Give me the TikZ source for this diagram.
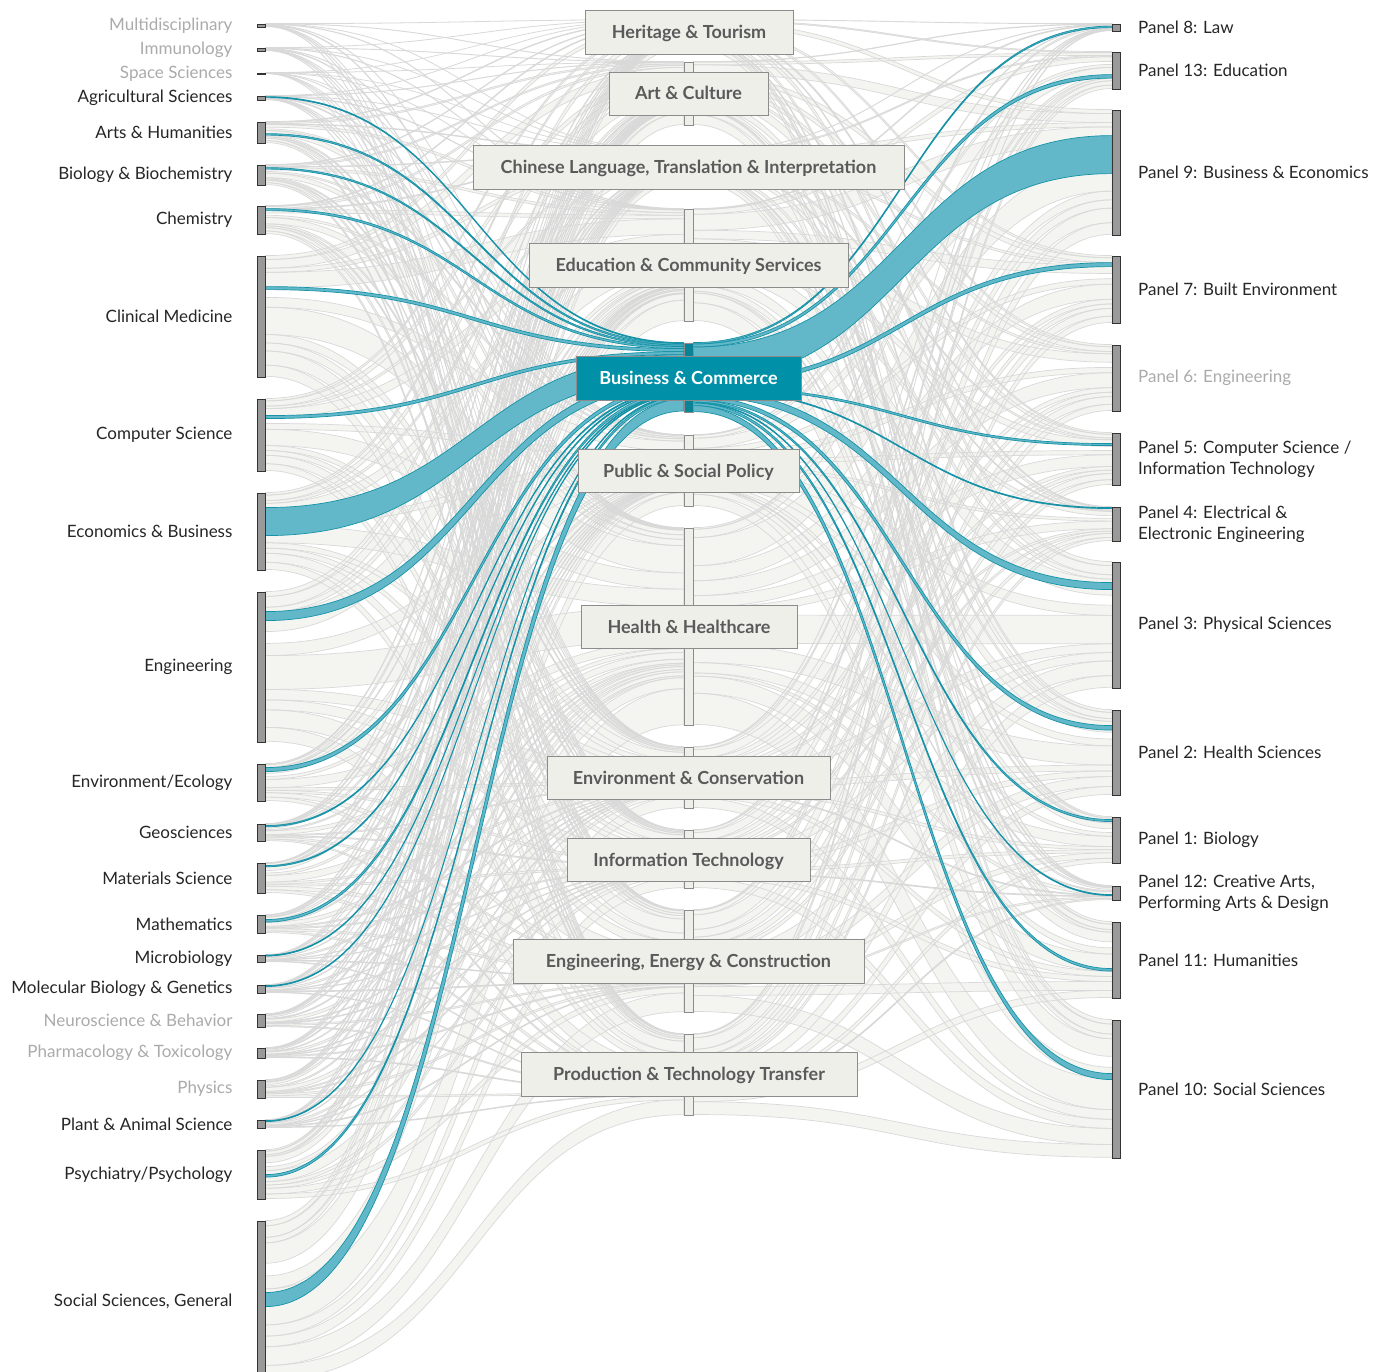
\documentclass[tikz,border=0pt]{standalone}
\usepackage{fontspec}
\setmainfont{Lato}
\usepackage{tikz}
\usetikzlibrary{calc,positioning}

\definecolor{flowfill}{HTML}{F4F4F0}
\definecolor{flowline}{HTML}{D9D9D9}
\definecolor{tealfill}{HTML}{62B8C8}
\definecolor{tealline}{HTML}{1592A7}
\definecolor{bizblue}{HTML}{0091A8}
\definecolor{bizstem}{HTML}{0B8396}
\definecolor{boxfill}{HTML}{EFEFEA}
\definecolor{boxline}{HTML}{8C8C8C}
\definecolor{boxtext}{HTML}{5A5A5A}
\definecolor{barfill}{HTML}{9A9A9A}
\definecolor{labeltext}{HTML}{262626}
\definecolor{fadetext}{HTML}{ABABAB}

\pgfdeclarelayer{bg}
\pgfdeclarelayer{flows}
\pgfsetlayers{bg,flows,main}

% ribbon between two vertical edges: style, a1, a2, b1, b2
\newcommand\flowband[5]{%
  \coordinate (fm) at ($(#2)!0.5!(#4)$);
  \path[#1] (#2) .. controls (fm |- #2) and (fm |- #4) .. (#4)
    -- (#5) .. controls (fm |- #5) and (fm |- #3) .. (#3) -- cycle;}

\tikzset{
  lbar/.style={draw=black!80, fill=barfill, line width=0.8pt, minimum width=8pt, inner sep=0pt},
  stembar/.style={draw=boxline, fill=boxfill, line width=0.8pt, minimum width=9pt, inner sep=0pt},
  cbox/.style={draw=boxline, fill=boxfill, line width=0.8pt, minimum height=44pt, inner sep=0pt,
    text height=16pt, text depth=3pt, text=boxtext, font=\fontsize{18}{21}\selectfont\bfseries},
  bizbox/.style={cbox, fill=bizblue, text=white},
  leftlabel/.style={anchor=east, font=\fontsize{17}{21}\selectfont, inner sep=0pt},
  rightlabel/.style={anchor=west, align=left, font=\fontsize{17}{21}\selectfont, inner sep=0pt},
  greyfill/.style={fill=flowfill},
  greyline/.style={draw=flowline, line width=0.7pt},
  tealflow/.style={fill=tealfill, draw=tealline, line width=0.7pt}
}

\def\leftlist{3/0,3/3,1/6,4/7,21/11,20/32,28/52,121/80,72/201,77/273,150/350,37/500,17/537,30/554,18/584,7/602,8/609,13/617,10/630,18/640,8/658,49/666,160/715}
\def\stemlist{28/0,63/28,30/91,112/121,69/233,71/302,197/373,61/570,58/631,102/689,81/791}
\def\rightlist{7/0,37/7,125/44,67/169,66/236,52/302,34/354,126/388,85/514,46/599,14/645,76/659,138/735}

\begin{document}
\begin{tikzpicture}[x=1pt, y=-1pt]
\useasboundingbox (0,0) rectangle (1386,1372);
\begin{pgfonlayer}{bg}
  \fill[white] (0,0) rectangle (1386,1372);
\end{pgfonlayer}

% fields of research (left)
\foreach \top/\h/\txt/\col [count=\i] in {
  24/3/Multidisciplinary/fadetext, 48/3/Immunology/fadetext,
  73/1/Space Sciences/fadetext, 96/4/Agricultural Sciences/labeltext,
  122/21/Arts \& Humanities/labeltext, 165/20/Biology \& Biochemistry/labeltext,
  206/28/Chemistry/labeltext, 256/121/Clinical Medicine/labeltext,
  399/72/Computer Science/labeltext, 493/77/Economics \& Business/labeltext,
  592/150/Engineering/labeltext, 764/37/{Environment/Ecology}/labeltext,
  824/17/Geosciences/labeltext, 863/30/Materials Science/labeltext,
  915/18/Mathematics/labeltext, 955/7/Microbiology/labeltext,
  985/8/Molecular Biology \& Genetics/labeltext, 1014/13/Neuroscience \& Behavior/fadetext,
  1048/10/Pharmacology \& Toxicology/fadetext, 1080/18/Physics/fadetext,
  1120/8/Plant \& Animal Science/labeltext, 1150/49/{Psychiatry/Psychology}/labeltext,
  1221/160/{Social Sciences, General}/labeltext}{
  \node[lbar, minimum height=\h pt] (L\i) at (261,\top+\h/2) {};
  \node[leftlabel, text=\col, left=24pt of L\i] {\txt};
}

% panels (right)
\foreach \top/\h/\txt/\col [count=\k] in {
  24/7/Panel 8: Law/labeltext, 52/37/Panel 13: Education/labeltext,
  110/125/Panel 9: Business \& Economics/labeltext, 256/67/Panel 7: Built Environment/labeltext,
  345/66/Panel 6: Engineering/fadetext, 433/52/{Panel 5: Computer Science /\\Information Technology}/labeltext,
  507/34/{Panel 4: Electrical \&\\Electronic Engineering}/labeltext, 562/126/Panel 3: Physical Sciences/labeltext,
  710/85/Panel 2: Health Sciences/labeltext, 817/46/Panel 1: Biology/labeltext,
  886/14/{Panel 12: Creative Arts,\\Performing Arts \& Design}/labeltext, 922/76/Panel 11: Humanities/labeltext,
  1020/138/Panel 10: Social Sciences/labeltext}{
  \node[lbar, minimum height=\h pt] (R\k) at (1116.5,\top+\h/2) {};
  \node[rightlabel, text=\col, right=17pt of R\k] {\txt};
}

% impact areas (centre stems)
\foreach \top/\h [count=\j] in {20/28,62/63,152/30,209/112,343/69,435/71,528/197,747/61,830/58,910/102,1034/81}{
  \node[stembar, minimum height=\h pt] (S\j) at (688.5,\top+\h/2) {};
}
\node[stembar, fill=bizstem, minimum height=69pt] at (S5) {};

\node[cbox, minimum width=208pt] (B1) at (689,32) {Heritage \& Tourism};
\node[cbox, minimum width=159pt, minimum height=43pt] (B2) at (688.5,93.5) {Art \& Culture};
\node[cbox, minimum width=431pt] (B3) at (688.5,167) {Chinese Language, Translation \& Interpretation};
\node[cbox, minimum width=319pt] (B4) at (688.5,265) {Education \& Community Services};
\node[bizbox, minimum width=225pt] (B5) at (688.5,378) {Business \& Commerce};
\node[cbox, minimum width=221pt, minimum height=43pt] (B6) at (688.5,470.5) {Public \& Social Policy};
\node[cbox, minimum width=216pt, minimum height=43pt] (B7) at (689,626.5) {Health \& Healthcare};
\node[cbox, minimum width=283pt, minimum height=43pt] (B8) at (688.5,777.5) {Environment \& Conservation};
\node[cbox, minimum width=243pt, minimum height=43pt] (B9) at (688.5,859.5) {Information Technology};
\node[cbox, minimum width=351pt] (B10) at (688.5,961) {Engineering, Energy \& Construction};
\node[cbox, minimum width=336pt] (B11) at (689,1074) {Production \& Technology Transfer};

\begin{pgfonlayer}{flows}
% grey flows, fills first then edges
\foreach \pass in {greyfill,greyline}{
  \foreach \h/\H [count=\i] in \leftlist{
    \foreach \s/\S [count=\j] in \stemlist{
      \ifnum\j=5\relax\else
        \pgfmathsetmacro\ya{\h/874*\S}
        \pgfmathsetmacro\yb{\h/874*(\S+\s)}
        \pgfmathsetmacro\yc{\s/874*\H}
        \pgfmathsetmacro\yd{\s/874*(\H+\h)}
        \coordinate (a1) at ([yshift=-\ya pt]L\i.north east);
        \coordinate (a2) at ([yshift=-\yb pt]L\i.north east);
        \coordinate (b1) at ([yshift=-\yc pt]S\j.north west);
        \coordinate (b2) at ([yshift=-\yd pt]S\j.north west);
        \flowband{\pass}{a1}{a2}{b1}{b2}
      \fi
    }
  }
  \foreach \s/\S [count=\j] in \stemlist{
    \ifnum\j=5\relax\else
      \foreach \r/\R [count=\k] in \rightlist{
        \pgfmathsetmacro\ya{\s/874*\R}
        \pgfmathsetmacro\yb{\s/874*(\R+\r)}
        \pgfmathsetmacro\yc{\r/874*\S}
        \pgfmathsetmacro\yd{\r/874*(\S+\s)}
        \coordinate (b1) at ([yshift=-\ya pt]S\j.north east);
        \coordinate (b2) at ([yshift=-\yb pt]S\j.north east);
        \coordinate (c1) at ([yshift=-\yc pt]R\k.north west);
        \coordinate (c2) at ([yshift=-\yd pt]R\k.north west);
        \flowband{\pass}{b1}{b2}{c1}{c2}
      }
    \fi
  }
}

% Business & Commerce, in
\foreach \i/\off/\wl/\st/\ws in {4/1/1/0/1, 5/12/1.5/1/1.5, 6/3/1.5/2.5/1.5, 7/3/2/4/2,
  8/31/3/6/3, 9/17/3/9/3, 10/15/28/12/22, 11/20/9/34/8, 12/4/4/42/4, 13/2/1.2/46/1.2,
  14/3/1.2/47.2/1.2, 15/5/2.5/48.4/2.5, 16/0.5/1/50.9/1, 17/1/1/51.9/1, 21/1/1/52.9/1,
  22/25/2.5/53.9/2.5, 23/72/14/56.4/12}{
  \pgfmathsetmacro\yb{\off+\wl}
  \pgfmathsetmacro\yd{\st+\ws}
  \coordinate (a1) at ([yshift=-\off pt]L\i.north east);
  \coordinate (a2) at ([yshift=-\yb pt]L\i.north east);
  \coordinate (b1) at ([yshift=-\st pt]S5.north west);
  \coordinate (b2) at ([yshift=-\yd pt]S5.north west);
  \flowband{tealflow}{a1}{a2}{b1}{b2}
}
% Business & Commerce, out
\foreach \k/\off/\wr/\st/\ws in {1/2.5/1.5/0/1.5, 2/23/3.5/1.5/3, 3/26/38/4.5/35, 4/7/4/39.5/4,
  6/11/2/43.5/2, 7/1/1/45.5/1, 8/21/7/46.5/7, 9/16/4.5/53.5/4, 10/3/2/57.5/2,
  11/9/1/59.5/1, 12/47/2.5/60.5/2.5, 13/54/6/63/6}{
  \pgfmathsetmacro\yb{\st+\ws}
  \pgfmathsetmacro\yd{\off+\wr}
  \coordinate (b1) at ([yshift=-\st pt]S5.north east);
  \coordinate (b2) at ([yshift=-\yb pt]S5.north east);
  \coordinate (c1) at ([yshift=-\off pt]R\k.north west);
  \coordinate (c2) at ([yshift=-\yd pt]R\k.north west);
  \flowband{tealflow}{b1}{b2}{c1}{c2}
}
\end{pgfonlayer}
\end{tikzpicture}
\end{document}
